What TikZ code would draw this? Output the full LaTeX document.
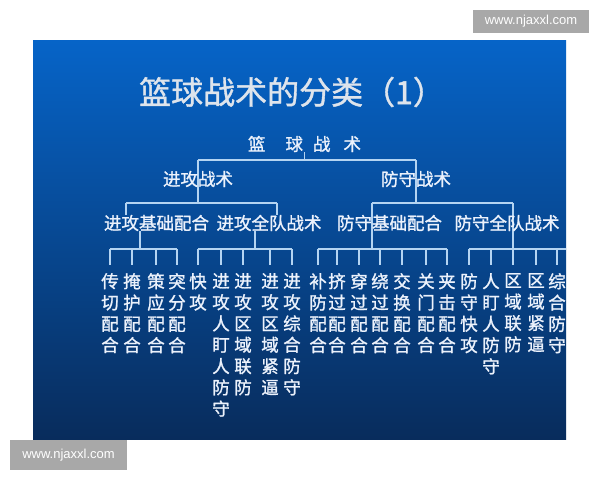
\documentclass[tikz,border=0pt]{standalone}
\usepackage{fontspec}
\setmainfont{Noto Sans CJK SC}[BoldFont=Noto Sans CJK SC, BoldFeatures={FakeBold=1.2}]
\newfontfamily\wmfont{Liberation Sans}
\usetikzlibrary{backgrounds}

\definecolor{slidetop}{RGB}{6,100,200}
\definecolor{slidemid}{RGB}{9,72,156}
\definecolor{slidebot}{RGB}{8,44,92}
\definecolor{linkblue}{RGB}{180,212,242}
\definecolor{labelwhite}{RGB}{236,242,252}
\definecolor{titlegray}{RGB}{222,228,236}
\definecolor{wmgray}{RGB}{168,168,168}

\tikzset{
  lbl/.style={inner sep=0pt, text=labelwhite, font=\bfseries\fontsize{17.5}{21.3}\selectfont},
  leaf/.style={lbl, anchor=north, align=center},
  link/.style={draw=linkblue, line width=1.4pt},
  wmbox/.style={fill=wmgray, text=white, inner sep=0pt, minimum width=116pt,
    minimum height=23pt, font=\wmfont\fontsize{13}{13}\selectfont}
}

\begin{document}
\begin{tikzpicture}[x=1pt,y=-1pt]
      % \draw[help lines](0,0) grid (600,480);
      \useasboundingbox (0,0) rectangle (600,480);
      \begin{pgfonlayer}{background}
        \fill[white] (0,0) rectangle (600,480);
        \shade[top color=slidetop, middle color=slidemid, bottom color=slidebot] (33,40) rectangle (566,439);
      \end{pgfonlayer}

      \draw (531,21.5) node (wmtop) [wmbox] {www.njaxxl.com};
      \draw (68.5,455) node (wmbottom) [wmbox, minimum width=117pt, minimum height=30pt] {www.njaxxl.com};

      \draw (292,92) node (title) [text=titlegray, font=\bfseries\fontsize{32}{32}\selectfont] {篮球战术的分类（1）};

      \draw (304.5,144) node (root) [lbl] {篮\hspace{20pt}球\hspace{10pt}战\hspace{13pt}术};
      \draw (198,179) node (att) [lbl] {进攻战术};
      \draw (416,179) node (def) [lbl] {防守战术};
      \draw (156.5,223) node (attbase) [lbl] {进攻基础配合};
      \draw (269,223) node (attteam) [lbl] {进攻全队战术};
      \draw (389.5,223) node (defbase) [lbl] {防守基础配合};
      \draw (507,223) node (defteam) [lbl] {防守全队战术};

      \foreach \n/\x/\t in {a1/110/{传\\切\\配\\合}, a2/132/{掩\\护\\配\\合},
          a3/156/{策\\应\\配\\合}, a4/177/{突\\分\\配\\合},
          b1/198/{快\\攻}, b2/221/{进\\攻\\人\\盯\\人\\防\\守}, b3/243/{进\\攻\\区\\域\\联\\防},
          b4/270/{进\\攻\\区\\域\\紧\\逼}, b5/292/{进\\攻\\综\\合\\防\\守},
          c1/318/{补\\防\\配\\合}, c2/337/{挤\\过\\配\\合}, c3/359/{穿\\过\\配\\合},
          c4/380/{绕\\过\\配\\合}, c5/402/{交\\换\\配\\合}, c6/426/{关\\门\\配\\合},
          c7/447/{夹\\击\\配\\合},
          d1/469/{防\\守\\快\\攻}, d2/491/{人\\盯\\人\\防\\守}, d3/513/{区\\域\\联\\防},
          d4/536/{区\\域\\紧\\逼}, d5/557/{综\\合\\防\\守}}
        \draw (\x,273) node (\n) [leaf] {\t};

      % bus levels
      \coordinate (bus0) at (0,160);
      \coordinate (bus1) at (0,203);
      \coordinate (bus2) at (0,249);
      \coordinate (bus3) at (0,265);
      \coordinate (slideedge) at (566,0);
      \path (attbase.north) ++(-30.5,0) coordinate (attbasein);
      \path (attbase.south) ++(-16.5,0) coordinate (attbaseout);
      \path (attteam.north) ++(8,0) coordinate (attteamin);
      \path (attteam.south) ++(-14,0) coordinate (attteamout);
      \path (defbase) ++(-17.5,0) coordinate (defbasetap);
      \path (defteam) ++(6,0) coordinate (defteamtap);

      \begin{pgfonlayer}{background}
        \draw [link] (root.south) -- (root.south |- bus0);
        \draw [link] (att |- bus0) -- (def |- bus0);
        \draw [link] (att |- bus0) -- (att |- bus1);
        \draw [link] (def |- bus0) -- (def |- bus1);

        \draw [link] (attbasein |- bus1) -- (attteamin |- bus1);
        \draw [link] (attbasein |- bus1) -- (attbasein);
        \draw [link] (attteamin |- bus1) -- (attteamin);
        \draw [link] (attbaseout) -- (attbaseout |- bus2);
        \draw [link] (attteamout) -- (attteamout |- bus2);

        \draw [link] (defbasetap |- bus1) -- (defteamtap |- bus1);
        \draw [link] (defbasetap |- bus1) -- (defbasetap |- bus2);
        \draw [link] (defteamtap |- bus1) -- (defteamtap |- bus2);

        \draw [link] (a1 |- bus2) -- (a4 |- bus2);
        \draw [link] (b1 |- bus2) -- (b5 |- bus2);
        \draw [link] (c1 |- bus2) -- (c7 |- bus2);
        \draw [link] (d1 |- bus2) -- (slideedge |- bus2);
        \foreach \n in {a1,a2,a3,a4,b1,b2,b3,b4,b5,c1,c2,c3,c4,c5,c6,c7,d1,d2,d3,d4,d5}
          \draw [link] (\n |- bus2) -- (\n |- bus3);
      \end{pgfonlayer}
    \end{tikzpicture}
\end{document}
